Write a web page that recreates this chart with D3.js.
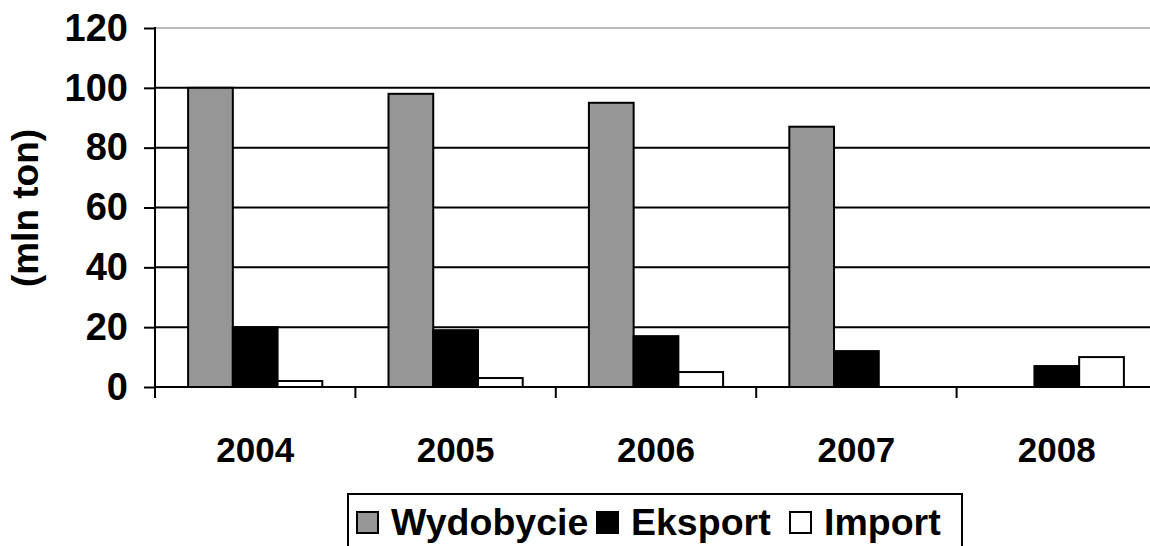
<!DOCTYPE html>
<html><head><meta charset="utf-8">
<script src="https://cdn.jsdelivr.net/npm/d3@7"></script>
<style>html,body{margin:0;padding:0;background:#fff;overflow:hidden}</style>
</head><body>
<svg id="c" width="1150" height="546"></svg>
<script>
const years = ["2004","2005","2006","2007","2008"];
const seriesNames = ["Wydobycie","Eksport","Import"];
const wydobycie = [100, 98, 95, 87, 0];
const eksport = [20, 19, 17, 12, 7];
const importV = [2, 3, 5, 0, 10];
const yTicks = [0, 20, 40, 60, 80, 100, 120];
const colors = ["#969696", "#000000", "#ffffff"];
const yTitle = "(mln ton)";

const values = [wydobycie, eksport, importV];
const svg = d3.select("#c");
const font = "'Liberation Sans', Arial, sans-serif";

const y = d3.scaleLinear().domain([0,120]).range([387, 28]);
const x0 = d3.scaleBand().domain(years).range([155, 1157]).padding(0);
const x1 = d3.scaleBand().domain(seriesNames).range([0, x0.bandwidth()]).paddingOuter(0.74).paddingInner(0);

// gridlines
svg.append("g").selectAll("line").data(yTicks.filter(d=>d>0)).join("line")
  .attr("x1",155).attr("x2",1150).attr("y1",d=>y(d)).attr("y2",d=>y(d))
  .attr("stroke",d=>d===120?"#bbbbbb":"#000").attr("stroke-width",2);

// bars
const data = [];
years.forEach((yr,i)=>seriesNames.forEach((s,j)=>{ if(values[j][i]>0) data.push({yr,s,v:values[j][i],j}); }));
svg.append("g").selectAll("rect").data(data).join("rect")
  .attr("x",d=>x0(d.yr)+x1(d.s)).attr("width",x1.bandwidth())
  .attr("y",d=>y(d.v)).attr("height",d=>y(0)-y(d.v))
  .attr("fill",d=>colors[d.j]).attr("stroke","#000").attr("stroke-width",2);

// y axis
const yAxis = d3.axisLeft(y).tickValues(yTicks).tickSize(11).tickPadding(16).tickSizeOuter(0);
const gy = svg.append("g").attr("transform","translate(155,0)").call(yAxis);
gy.select(".domain").remove();
gy.selectAll(".tick line").attr("stroke","#000").attr("stroke-width",2);
gy.selectAll("text").attr("font-family",font).attr("font-weight","bold").attr("font-size",38).attr("fill","#000");
svg.append("line").attr("x1",155).attr("x2",155).attr("y1",y(120)-1).attr("y2",398).attr("stroke","#000").attr("stroke-width",2);

// x axis
const xAxis = d3.axisBottom(x0).tickSize(0).tickPadding(50);
const gx = svg.append("g").attr("transform","translate(0,387)").call(xAxis);
gx.select(".domain").remove();
gx.selectAll("text").attr("font-family",font).attr("font-weight","bold").attr("font-size",35).attr("fill","#000");
svg.append("line").attr("x1",155).attr("x2",1150).attr("y1",387).attr("y2",387).attr("stroke","#000").attr("stroke-width",2);
svg.append("g").selectAll("line").data(years.slice(1)).join("line")
  .attr("x1",d=>x0(d)).attr("x2",d=>x0(d)).attr("y1",387).attr("y2",398)
  .attr("stroke","#000").attr("stroke-width",2);

// y title
svg.append("text").attr("transform","translate(38,208) rotate(-90)")
  .attr("text-anchor","middle").attr("font-family",font).attr("font-weight","bold")
  .attr("font-size",37).text(yTitle);

// legend
svg.append("rect").attr("x",348).attr("y",494).attr("width",614).attr("height",80)
  .attr("fill","none").attr("stroke","#000").attr("stroke-width",2);
const legX = [357, 597, 790];
const lg = svg.append("g").selectAll("g").data(seriesNames).join("g")
  .attr("transform",(d,i)=>`translate(${legX[i]},512)`);
lg.append("rect").attr("width",21).attr("height",21).attr("fill",(d,i)=>colors[i]).attr("stroke","#000").attr("stroke-width",2);
lg.append("text").attr("x",34).attr("y",23).attr("font-family",font).attr("font-weight","bold").attr("font-size",37.5).text(d=>d);
</script>
</body></html>
